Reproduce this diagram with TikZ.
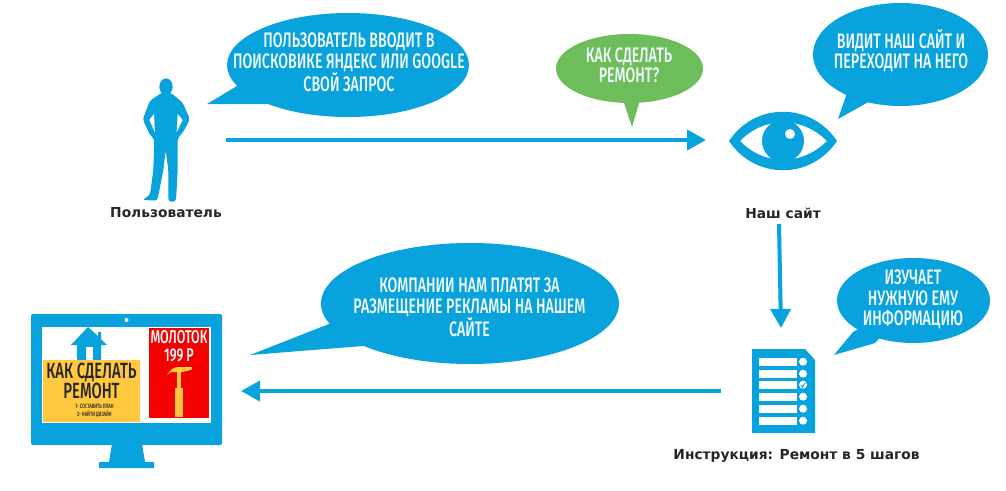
\documentclass[tikz,border=0pt]{standalone}
\usepackage{fontspec}
\usetikzlibrary{shapes.geometric,arrows.meta}
\setmainfont{DejaVu Sans}
\newfontfamily\din[FakeStretch=0.675]{Fira Sans Medium}
\newfontfamily\lab{DejaVu Sans Bold}
\definecolor{sky}{HTML}{08A2DC}
\definecolor{leaf}{HTML}{6DBE5B}
\definecolor{sun}{HTML}{FFC83E}
\definecolor{ink}{HTML}{262626}
\definecolor{card}{HTML}{F50000}
\tikzset{
  bubble/.style={ellipse,fill=sky,inner sep=0pt},
  greenbubble/.style={bubble,fill=leaf},
  bubbletext/.style={text=white!95!sky,inner sep=0pt,align=center,font=\din\fontsize{21}{20.5}\selectfont},
  flow/.style={draw=sky,line width=4pt,-{Triangle[length=19pt,width=20pt]}},
  caption/.style={font=\lab\fontsize{13.8}{16}\selectfont,text=ink,inner sep=0pt},
}
\begin{document}
\begin{tikzpicture}[x=1pt,y=-1pt]
\useasboundingbox[fill=white] (0,0) rectangle (1006,490);

% bubbles
\node[bubble,minimum width=242pt,minimum height=104pt] (b1) at (348,65) {};
\coordinate (t1) at (207,104);
\fill[sky] (237,86) -- (t1) -- (268,104) -- (b1.center) -- cycle;
\node[bubbletext] (b1t) at (349,62.5) {ПОЛЬЗОВАТЕЛЬ ВВОДИТ В\\ПОИСКОВИКЕ ЯНДЕКС ИЛИ GOOGLE\\СВОЙ ЗАПРОС};

\node[greenbubble,minimum width=147pt,minimum height=69pt] (b2) at (629.5,68.5) {};
\coordinate (t2) at (632,127);
\fill[leaf] (623,100) -- (t2) -- (640,100) -- cycle;
\node[bubbletext] (b2t) at (629,65) {КАК СДЕЛАТЬ\\РЕМОНТ?};

\node[bubble,minimum width=175pt,minimum height=103pt] (b3) at (900.5,54.5) {};
\coordinate (t3) at (838,119);
\fill[sky] (848,90) -- (t3) -- (872,100) -- (b3.center) -- cycle;
\node[bubbletext] (b3t) at (901,50.5) {ВИДИТ НАШ САЙТ И\\ПЕРЕХОДИТ НА НЕГО};

\node[bubble,minimum width=298pt,minimum height=121pt] (b4) at (470,303.5) {};
\coordinate (t4) at (250,355);
\fill[sky] (329,324) -- (t4) -- (363,346) -- (b4.center) -- cycle;
\node[bubbletext] (b4t) at (469.5,307.5) {КОМПАНИИ НАМ ПЛАТЯТ ЗА\\РАЗМЕЩЕНИЕ РЕКЛАМЫ НА НАШЕМ\\САЙТЕ};

\node[bubble,minimum width=153pt,minimum height=85pt] (b5) at (913.5,300.5) {};
\coordinate (t5) at (834,355);
\fill[sky] (853,332) -- (t5) -- (875,343) -- (b5.center) -- cycle;
\node[bubbletext] (b5t) at (913,299.5) {ИЗУЧАЕТ\\НУЖНУЮ ЕМУ\\ИНФОРМАЦИЮ};

% person
\begin{scope}[shift={(100,70)},x=0.3333pt,y=-0.3333pt]
\fill[sky] (198,50) ellipse (20 and 25);
\fill[sky,rounded corners=3pt] (185,68) -- (150,92) -- (128,148) -- (150,195) -- (163,207) -- (160,300) -- (150,375) -- (127,390) -- (172,392) -- (190,300) -- (197,240) -- (205,300) -- (205,395) -- (228,395) -- (233,300) -- (233,205) -- (250,185) -- (270,148) -- (248,98) -- (212,68) -- cycle;
\fill[white] (148,150) -- (162,132) -- (165,187) -- cycle;
\fill[white] (248,150) -- (233,132) -- (230,187) -- cycle;
\end{scope}
\node[caption] (personlabel) at (166,213) {Пользователь};

% eye
\begin{scope}[even odd rule]
\fill[sky] (729,141) .. controls (755,102) and (811,102) .. (837,141) .. controls (811,180) and (755,180) .. (729,141) -- cycle
  (740,141) .. controls (764,116) and (802,116) .. (827,141) .. controls (802,166) and (764,166) .. (740,141) -- cycle;
\end{scope}
\fill[sky] (783,141) circle (21);
\fill[white] (790,134) circle (5);
\node[caption] (eyelabel) at (783,213) {Наш сайт};

% document
\fill[sky] (752,349) -- (805,349) -- (815,360) -- (815,433) -- (752,433) -- cycle;
\foreach \yy in {358,370,381,393,405,417}{
  \fill[white] (759,\yy) rectangle (797,\yy+7.5);
  \fill[white] (803,\yy+3.7) circle (4);
}
\draw[sky,line width=1pt,line cap=round] (801,385) -- (802.5,387) -- (805,383);
\node[caption] (doclabel) at (796.5,456) {Инструкция: Ремонт в 5 шагов};

% monitor
\fill[sky,rounded corners=2pt] (31,314) rectangle (222,445);
\fill[sky] (112,444) -- (142,444) -- (145,462) -- (154,462) -- (154,468) -- (99,468) -- (99,462) -- (109,462) -- cycle;
\fill[white] (42,327) rectangle (211,423);
\fill[white] (126.5,320) circle (2);
% house
\fill[sky] (88,327) -- (98,336) -- (98,332) -- (101,332) -- (101,339) -- (107,345) -- (101,345) -- (101,361) -- (77,361) -- (77,345) -- (71,345) -- cycle;
\fill[white] (86,347) rectangle (93,361);
% yellow card
\fill[sun] (43,360) rectangle (140,422);
\node[inner sep=0pt,text=ink,align=center,font=\din\fontsize{22}{20}\selectfont] (kak) at (91.5,381) {КАК СДЕЛАТЬ\\РЕМОНТ};
\node[inner sep=0pt,text=ink,align=center,font=\din\fontsize{6.2}{8}\selectfont] (plan) at (94.5,411) {1- СОСТАВИТЬ ПЛАН\\2- НАЙТИ ДИЗАЙН};
% red card
\fill[card] (149,328) rectangle (209,418);
\node[inner sep=0pt,text=white,align=center,font=\din\fontsize{18.5}{18.5}\selectfont] (price) at (179,346) {МОЛОТОК\\199 Р};
\fill[sun] (177,372) rectangle (181,388);
\fill[sun] (175,388) rectangle (183,417);
\fill[sun] (167,375) .. controls (170,370) and (174,367) .. (178,367) -- (192,367) -- (192,369.5) -- (183,372) -- (176,372) .. controls (173,371) and (170,372) .. (167,375) -- cycle;

% connectors
\coordinate (a1) at (226,140);
\coordinate (a2) at (706,140);
\coordinate (a3) at (779,224);
\coordinate (a4) at (781,328);
\coordinate (a5) at (721,391);
\coordinate (a6) at (241,391);
\draw[flow] (a1) -- (a2);
\draw[flow] (a3) -- (a4);
\draw[flow] (a5) -- (a6);
\end{tikzpicture}
\end{document}
